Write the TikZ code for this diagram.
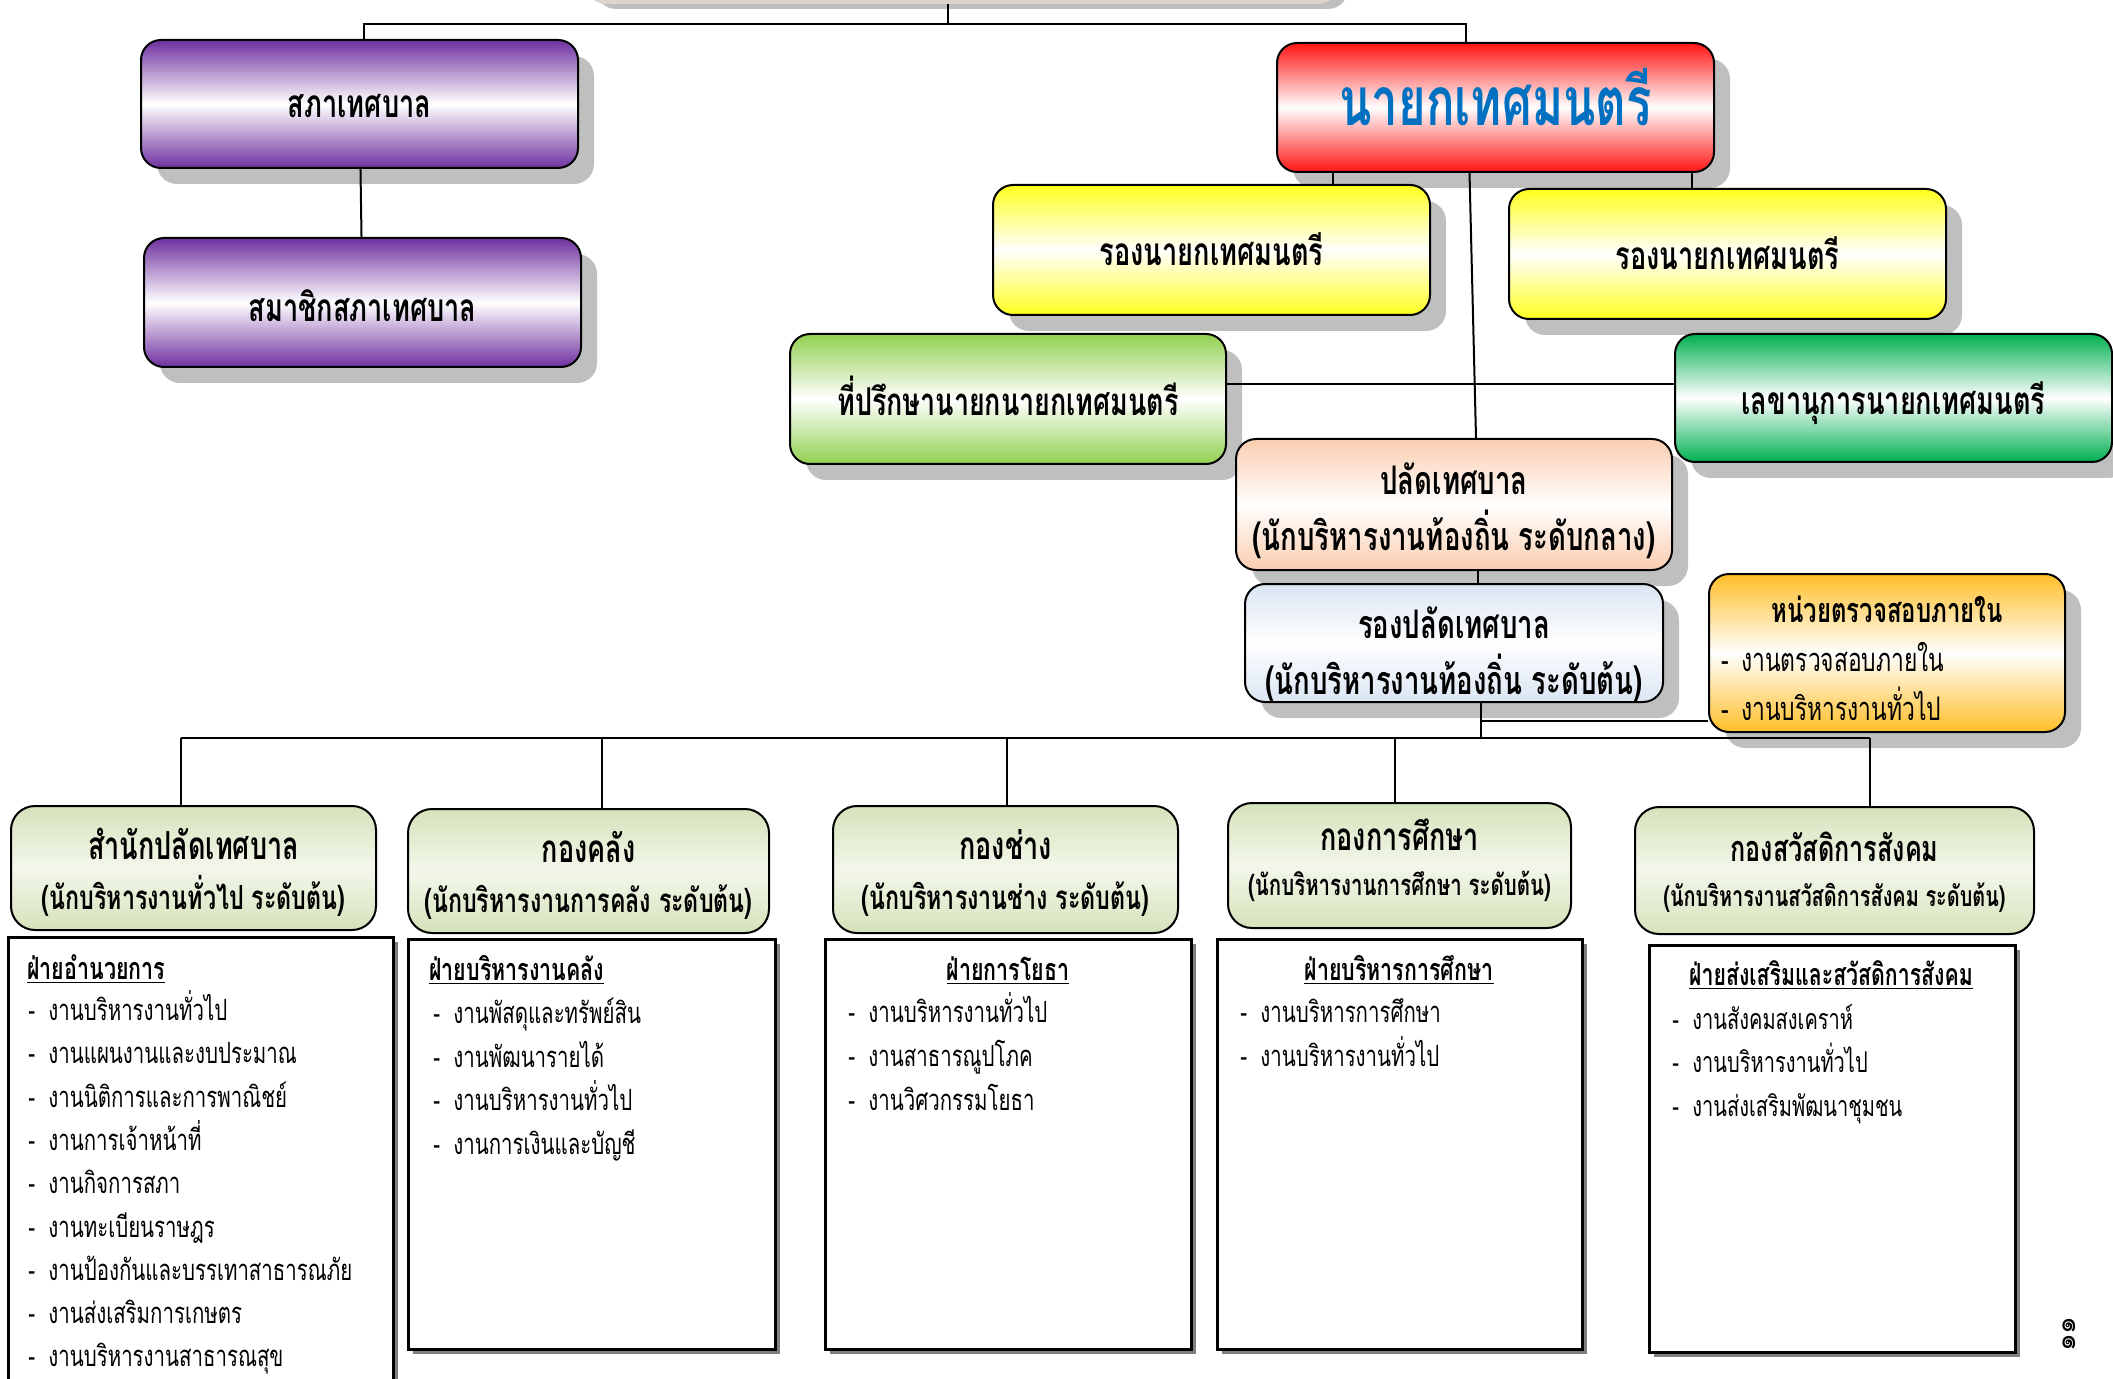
\documentclass[tikz,border=0pt]{standalone}
\usepackage{fontspec}
\usetikzlibrary{shadows}
\newfontfamily\thai[Script=Thai]{Loma}
\newfontfamily\thain[Script=Thai,FakeStretch=0.7]{Loma}
\def\px{0.5pt}
\newcommand\itemdash{\makebox[10pt][l]{-}}
\definecolor{purp}{RGB}{112,48,160}
\definecolor{boxred}{RGB}{255,20,20}
\definecolor{boxyellow}{RGB}{255,255,30}
\definecolor{lightgreen}{RGB}{146,208,80}
\definecolor{darkgreen}{RGB}{0,176,80}
\definecolor{peach}{RGB}{250,205,175}
\definecolor{paleblue}{RGB}{218,229,243}
\definecolor{boxorange}{RGB}{255,190,40}
\definecolor{divgreen}{RGB}{213,226,186}
\definecolor{divlight}{RGB}{243,247,235}
\definecolor{beige}{RGB}{221,213,204}
\definecolor{shadowgray}{RGB}{191,191,191}
\definecolor{mayorblue}{RGB}{0,112,192}
\tikzset{
	vgrad/.style={top color=#1, bottom color=#1, middle color=white},
	orgbox/.style 2 args={draw, line width=1pt, rounded corners=10pt, minimum width=#1*\px, minimum height=#2*\px, inner sep=0pt, align=center,
		font=\thain\bfseries\fontsize{19.4}{22}\selectfont, text height=14pt, text depth=0pt,
		drop shadow={shadow xshift=8pt, shadow yshift=-8pt, fill=shadowgray, opacity=1}},
	divbox/.style 2 args={draw, line width=1pt, rounded corners=12pt, minimum width=#1*\px, minimum height=#2*\px, inner sep=0pt,
		top color=divgreen, bottom color=divgreen, middle color=divlight},
	listbox/.style 2 args={draw, line width=1.5pt, fill=white, minimum width=#1*\px, minimum height=#2*\px, inner sep=0pt,
		drop shadow={shadow xshift=2.5pt, shadow yshift=-2.5pt, fill=black!50, opacity=1}},
	linetext/.style 2 args={inner sep=0pt, font=\thain\bfseries\fontsize{#1}{#1}\selectfont, text height=#2, text depth=0pt},
	heading/.style={inner sep=0pt, font=\thain\bfseries\fontsize{15.3}{18}\selectfont, text height=11pt, text depth=0pt},
	item/.style={anchor=west, inner sep=0pt, font=\thain\fontsize{14.6}{16}\selectfont, text height=10.5pt, text depth=0pt},
	link/.style={line width=1pt},
	buslink/.style={line width=1.3pt}
}
\begin{document}
\begin{tikzpicture}[x=\px, y=-\px]
	%%%%% START %%%%%
	\path[use as bounding box] (0,0) rectangle (2113,1379);
	\clip (0,0) rectangle (2113,1379);
	
	\node[rounded corners=10pt, fill=beige, minimum width=752*\px, minimum height=100*\px,
		drop shadow={shadow xshift=5pt, shadow yshift=-2.5pt, fill=shadowgray, opacity=1}] (head) at (962,-46) {};
	
	\node[orgbox={437}{128}, vgrad=purp] (council) at (359.5,104) {สภาเทศบาล};
	\node[orgbox={437}{129}, vgrad=purp, text height=18.7pt] (member) at (362.5,302.5) {สมาชิกสภาเทศบาล};
	
	\node[orgbox={437}{129}, vgrad=boxred, text=mayorblue, font=\thain\bfseries\fontsize{33.8}{36}\selectfont, text height=18pt] (mayor) at (1495.5,107.5) {นายกเทศมนตรี};
	\node[orgbox={437}{130}, vgrad=boxyellow, text height=16pt] (deputyL) at (1211.5,250) {รองนายกเทศมนตรี};
	\node[orgbox={437}{130}, vgrad=boxyellow, text height=16pt] (deputyR) at (1727.5,254) {รองนายกเทศมนตรี};
	\node[orgbox={436}{130}, vgrad=lightgreen, font=\thain\bfseries\fontsize{19.2}{22}\selectfont, text height=16.5pt] (advisor) at (1008,399) {ที่ปรึกษานายกนายกเทศมนตรี};
	\node[orgbox={437}{128}, vgrad=darkgreen, text height=16.3pt] (secretary) at (1893.5,398) {เลขานุการนายกเทศมนตรี};
	
	\node[orgbox={436}{131}, vgrad=peach] (clerk) at (1454,504.5) {};
	\node[linetext={19.7}{14.2pt}] (clerkA) at (1454,480) {ปลัดเทศบาล};
	\node[linetext={19.7}{14.2pt}] (clerkB) at (1454,536) {(นักบริหารงานท้องถิ่น ระดับกลาง)};
	\node[orgbox={418}{118}, vgrad=paleblue] (deputyclerk) at (1454,643) {};
	\node[linetext={19.7}{14.2pt}] (deputyclerkA) at (1454,624) {รองปลัดเทศบาล};
	\node[linetext={19.7}{14.2pt}] (deputyclerkB) at (1454,680) {(นักบริหารงานท้องถิ่น ระดับต้น)};
	\node[orgbox={356}{158}, vgrad=boxorange] (audit) at (1887,653) {};
	\node[linetext={17.1}{12.3pt}] (auditA) at (1887,610) {หน่วยตรวจสอบภายใน};
	\node[item, font=\thain\fontsize{16.3}{18}\selectfont, text height=11.7pt] (audit1) at (1721,660) {\itemdash งานตรวจสอบภายใน};
	\node[item, font=\thain\fontsize{16.3}{18}\selectfont, text height=11.7pt] (audit2) at (1721,709) {\itemdash งานบริหารงานทั่วไป};
	
	% divisions
	\node[divbox={365}{124}] (office) at (193.5,868) {};
	\node[linetext={19.3}{13.9pt}] (officeA) at (193.5,846) {สำนักปลัดเทศบาล};
	\node[linetext={16.6}{12pt}] (officeB) at (193.5,897) {(นักบริหารงานทั่วไป ระดับต้น)};
	\node[divbox={361}{124}] (finance) at (588.5,871) {};
	\node[linetext={19.3}{13.9pt}] (financeA) at (588.5,849) {กองคลัง};
	\node[linetext={16.6}{12pt}] (financeB) at (588.5,900) {(นักบริหารงานการคลัง ระดับต้น)};
	\node[divbox={345}{127}] (works) at (1005.5,869.5) {};
	\node[linetext={19.3}{13.9pt}] (worksA) at (1005.5,846) {กองช่าง};
	\node[linetext={16.6}{12pt}] (worksB) at (1005.5,897) {(นักบริหารงานช่าง ระดับต้น)};
	\node[divbox={343}{125}] (education) at (1399.5,865.5) {};
	\node[linetext={19.3}{13.9pt}] (educationA) at (1399.5,837) {กองการศึกษา};
	\node[linetext={14.6}{10.5pt}] (educationB) at (1399.5,885) {(นักบริหารงานการศึกษา ระดับต้น)};
	\node[divbox={399}{127}] (welfare) at (1834.5,870.5) {};
	\node[linetext={18}{13pt}] (welfareA) at (1834.5,848) {กองสวัสดิการสังคม};
	\node[linetext={14.2}{10.2pt}] (welfareB) at (1834.5,896) {(นักบริหารงานสวัสดิการสังคม ระดับต้น)};
	
	\node[listbox={385}{458}] (list1) at (200.5,1166) {};
	\node[listbox={367}{410}] (list2) at (591.5,1144) {};
	\node[listbox={366}{410}] (list3) at (1008,1144) {};
	\node[listbox={365}{410}] (list4) at (1399.5,1144) {};
	\node[listbox={366}{407}] (list5) at (1832,1148.5) {};
	
	\node[heading, anchor=west] (head1) at (27,968) {\underline{ฝ่ายอำนวยการ}};
	\foreach \t [count=\i from 0] in {งานบริหารงานทั่วไป, งานแผนงานและงบประมาณ, งานนิติการและการพาณิชย์, งานการเจ้าหน้าที่, งานกิจการสภา, งานทะเบียนราษฎร, งานป้องกันและบรรเทาสาธารณภัย, งานส่งเสริมการเกษตร, งานบริหารงานสาธารณสุข}
		\node[item] (a\i) at (28,{1010+\i*43.3}) {\itemdash\t};
	
	\node[heading, anchor=west] (head2) at (429,969) {\underline{ฝ่ายบริหารงานคลัง}};
	\foreach \t [count=\i from 0] in {งานพัสดุและทรัพย์สิน, งานพัฒนารายได้, งานบริหารงานทั่วไป, งานการเงินและบัญชี}
		\node[item] (b\i) at (433,{1013+\i*43.7}) {\itemdash\t};
	
	\node[heading] (head3) at (1008,969) {\underline{ฝ่ายการโยธา}};
	\foreach \t [count=\i from 0] in {งานบริหารงานทั่วไป, งานสาธารณูปโภค, งานวิศวกรรมโยธา}
		\node[item] (c\i) at (848,{1012+\i*43.8}) {\itemdash\t};
	
	\node[heading] (head4) at (1399,969) {\underline{ฝ่ายบริหารการศึกษา}};
	\foreach \t [count=\i from 0] in {งานบริหารการศึกษา, งานบริหารงานทั่วไป}
		\node[item] (d\i) at (1240,{1012+\i*43.5}) {\itemdash\t};
	
	\node[heading, font=\thain\bfseries\fontsize{15.2}{18}\selectfont] (head5) at (1831,974) {\underline{ฝ่ายส่งเสริมและสวัสดิการสังคม}};
	\foreach \t [count=\i from 0] in {งานสังคมสงเคราห์, งานบริหารงานทั่วไป, งานส่งเสริมพัฒนาชุมชน}
		\node[item, font=\thain\fontsize{14.3}{18}\selectfont, text height=10.3pt] (e\i) at (1672,{1019+\i*43.5}) {\itemdash\t};
	
	\node[font=\thai\fontsize{14}{15}\selectfont, rotate=90] (page) at (2069,1334) {๑๑};
	
	% connectors
	\coordinate (top) at (948,24);
	\coordinate (topL) at (364,24);
	\coordinate (topR) at (1466,24);
	\draw[link] (head.south -| top) -- (top);
	\draw[buslink] (topL |- council.north) -- (topL) -- (topR) -- (topR |- mayor.north);
	\draw[link] (council) -- (member);
	\draw[link] (mayor.south -| 1333,0) -- (deputyL.north -| 1333,0);
	\draw[link] (mayor.south -| 1692,0) -- (deputyR.north -| 1692,0);
	\draw[link] ([xshift=-13pt]mayor.south) -- ([xshift=11pt]clerk.north);
	\draw[buslink] (advisor.east |- 0,384) -- (secretary.west |- 0,384);
	\draw[link] ([xshift=12pt]clerk.south) -- ([xshift=12pt]clerk.south |- deputyclerk.north);
	\coordinate (bus) at (1481,738);
	\coordinate (tap) at (1481,721);
	\draw[link] (deputyclerk.south -| bus) -- (bus);
	\draw[buslink] (tap) -- (tap -| audit.west);
	\draw[buslink] (181,738) -- (1870,738);
	\foreach \x/\n in {181/office, 602/finance, 1007/works, 1395/education, 1870/welfare}
		\draw[link] (\x,738) -- (\n.north -| \x,738);
	
	%%%%% END %%%%%
\end{tikzpicture}
\end{document}
